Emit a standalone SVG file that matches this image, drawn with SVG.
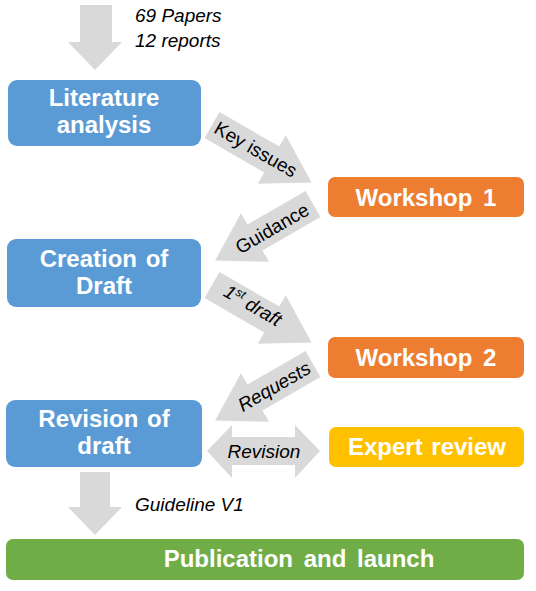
<svg xmlns="http://www.w3.org/2000/svg" width="536" height="591" viewBox="0 0 536 591">
<style>
.box{stroke:none}
.blue{fill:#5B9BD5}
.orange{fill:#ED7D31}
.yellow{fill:#FFC000}
.green{fill:#70AD47}
.lbl{font-family:"Liberation Sans",Arial,sans-serif;font-weight:bold;font-size:24px;fill:#ffffff;text-anchor:middle}
.arr{fill:#D9D9D9}
.at{font-family:"Liberation Sans",Arial,sans-serif;font-size:19px;fill:#000000;text-anchor:middle}
.it{font-style:italic}
.note{font-family:"Liberation Sans",Arial,sans-serif;font-size:19px;font-style:italic;fill:#000000}
</style>
<rect width="536" height="591" fill="#ffffff"/>
<g id="connectors">
  <polygon class="arr" points="80,5 112,5 112,42 122,42 95,70 68,42 80,42"/>
  <g transform="translate(212,125) rotate(30)"><polygon class="arr" points="0,-15 69,-15 69,-28 115,0 69,28 69,15 0,15"/></g>
  <g transform="translate(313,204) rotate(150)"><polygon class="arr" points="0,-15 67,-15 67,-28 113,0 67,28 67,15 0,15"/></g>
  <g transform="translate(212,285) rotate(30)"><polygon class="arr" points="0,-15 69,-15 69,-28 115,0 69,28 69,15 0,15"/></g>
  <g transform="translate(313,364) rotate(150)"><polygon class="arr" points="0,-15 67,-15 67,-28 113,0 67,28 67,15 0,15"/></g>
  <polygon class="arr" points="207,451 232,425 232,437 295,437 295,425 320,451 295,478 295,465 232,465 232,478"/>
  <polygon class="arr" points="80,472 110,472 110,507 122,507 95,535 68,507 80,507"/>
  <text class="note" x="135" y="22">69 Papers</text>
  <text class="note" x="135" y="47">12 reports</text>
  <text class="at" transform="translate(256,149) rotate(30)" y="7">Key issues</text>
  <text class="at" transform="translate(272,228) rotate(-30)" y="7">Guidance</text>
  <text class="at it" transform="translate(253,305) rotate(30)" y="7">1<tspan font-size="12" dy="-7">st</tspan><tspan dy="7"> draft</tspan></text>
  <text class="at it" transform="translate(274,386) rotate(-30)" y="7">Requests</text>
  <text class="note" x="264" y="458" text-anchor="middle">Revision</text>
  <text class="note" x="135" y="511">Guideline V1</text>
</g>
<g id="literature">
  <rect class="box blue" x="8" y="80" width="193" height="66" rx="9"/>
  <text class="lbl" x="104" y="106">Literature</text>
  <text class="lbl" x="104" y="133">analysis</text>
</g>
<g id="workshop1">
  <rect class="box orange" x="328" y="177" width="196" height="40" rx="7"/>
  <text class="lbl" x="426" y="206" word-spacing="4">Workshop 1</text>
</g>
<g id="creation">
  <rect class="box blue" x="7" y="239" width="194" height="68" rx="9"/>
  <text class="lbl" x="104" y="267" word-spacing="2">Creation of</text>
  <text class="lbl" x="104" y="294">Draft</text>
</g>
<g id="workshop2">
  <rect class="box orange" x="328" y="337" width="196" height="41" rx="7"/>
  <text class="lbl" x="426" y="366" word-spacing="4">Workshop 2</text>
</g>
<g id="revision">
  <rect class="box blue" x="6" y="400" width="196" height="67" rx="9"/>
  <text class="lbl" x="104" y="427" word-spacing="2">Revision of</text>
  <text class="lbl" x="104" y="454">draft</text>
</g>
<g id="expert">
  <rect class="box yellow" x="329" y="427" width="195" height="40" rx="7"/>
  <text class="lbl" x="427" y="455" word-spacing="2">Expert review</text>
</g>
<g id="publication">
  <rect class="box green" x="6" y="539" width="518" height="41" rx="7"/>
  <text class="lbl" x="299" y="567" word-spacing="4">Publication and launch</text>
</g>
</svg>
